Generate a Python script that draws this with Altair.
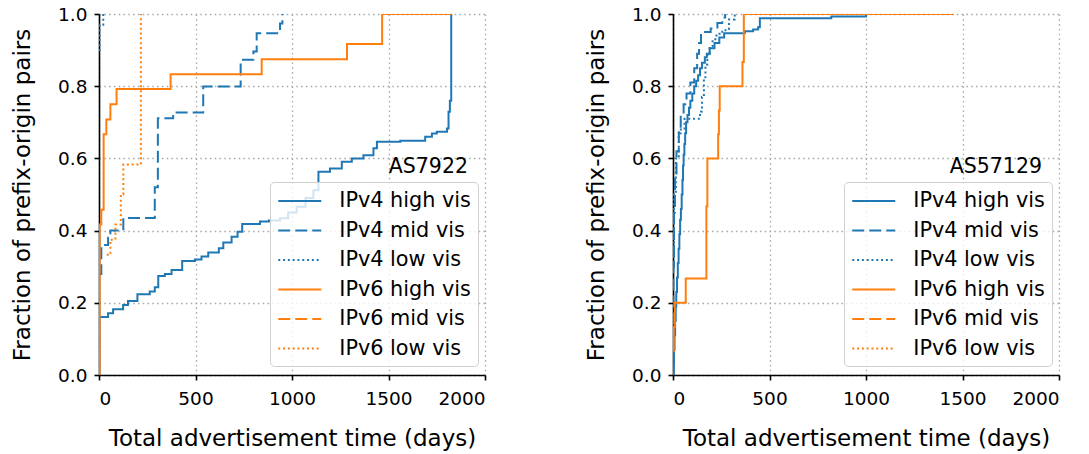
import altair as alt
import pandas as pd

SERIES = ["IPv4 high vis", "IPv4 mid vis", "IPv4 low vis",
          "IPv6 high vis", "IPv6 mid vis", "IPv6 low vis"]
COLORS = ["#1f77b4", "#1f77b4", "#1f77b4", "#ff7f0e", "#ff7f0e", "#ff7f0e"]
DASHES = [[1, 0], [12, 5], [2, 2.8], [1, 0], [12, 5], [2, 2.8]]

X_TICKS = [0, 500, 1000, 1500, 2000]
Y_TICKS = [0.0, 0.2, 0.4, 0.6, 0.8, 1.0]

# ---------------- AS7922 ----------------
AS7922_V4_HIGH_X = [0, 1, 47, 73, 125, 150, 199, 263, 289, 307, 341, 376, 431, 497, 531, 566,
                    621, 644, 687, 718, 742, 834, 880, 938, 980, 1024, 1070, 1111, 1137, 1197,
                    1258, 1310, 1370, 1422, 1440, 1561, 1690, 1725, 1750, 1803, 1811, 1818, 1825]
AS7922_V4_HIGH_Y = [0.0, 0.161, 0.171, 0.182, 0.194, 0.205, 0.224, 0.231, 0.243, 0.274, 0.28,
                    0.291, 0.316, 0.32, 0.328, 0.339, 0.351, 0.367, 0.383, 0.397, 0.418, 0.425,
                    0.428, 0.434, 0.45, 0.466, 0.49, 0.512, 0.563, 0.572, 0.591, 0.60, 0.609,
                    0.628, 0.646, 0.649, 0.66, 0.669, 0.674, 0.683, 0.729, 0.76, 1.0]
AS7922_V4_MID_X = [0, 12, 47, 59, 126, 289, 305, 384, 540, 734, 800, 817, 938, 950]
AS7922_V4_MID_Y = [0.28, 0.36, 0.38, 0.40, 0.435, 0.52, 0.711, 0.727, 0.799, 0.873, 0.896,
                   0.947, 0.974, 1.0]
AS7922_V4_LOW_X = [0, 3, 22]
AS7922_V4_LOW_Y = [0.9, 0.97, 1.0]
AS7922_V6_HIGH_X = [0, 3, 12, 24, 38, 59, 91, 371, 843, 1285, 1467, 1825]
AS7922_V6_HIGH_Y = [0.0, 0.417, 0.458, 0.667, 0.708, 0.75, 0.792, 0.833, 0.875, 0.917, 1.0, 1.0]
AS7922_V6_LOW_X = [40, 59, 85, 113, 126, 217]
AS7922_V6_LOW_Y = [0.333, 0.375, 0.417, 0.5, 0.583, 1.0]

# ---------------- AS57129 ----------------
AS57129_V4_HIGH_X = [0, 3, 5, 8, 11, 14, 17, 21, 25, 29, 33, 37, 41, 45, 49, 52, 55, 59, 63, 68,
                     75, 83, 90, 100, 110, 120, 130, 140, 150, 165, 175, 190, 215, 240, 265, 372,
                     415, 441, 450, 820, 1000, 1453]
AS57129_V4_HIGH_Y = [0.0, 0.03, 0.07, 0.11, 0.15, 0.19, 0.23, 0.27, 0.31, 0.35, 0.39, 0.43, 0.46,
                     0.50, 0.54, 0.58, 0.61, 0.64, 0.67, 0.70, 0.72, 0.74, 0.76, 0.78, 0.80,
                     0.815, 0.83, 0.85, 0.865, 0.88, 0.89, 0.905, 0.92, 0.935, 0.947, 0.952,
                     0.957, 0.963, 0.988, 0.993, 1.0, 1.0]
AS57129_V4_MID_X = [0, 2, 5, 10, 18, 30, 40, 55, 70, 90, 110, 125, 135, 145, 195, 230, 255, 270]
AS57129_V4_MID_Y = [0.0, 0.3, 0.45, 0.55, 0.62, 0.67, 0.72, 0.75, 0.78, 0.81, 0.85, 0.89, 0.92,
                    0.95, 0.96, 0.975, 0.99, 1.0]
AS57129_V4_LOW_X = [0, 5, 15, 30, 60, 140, 150, 160, 168, 178, 190, 205, 225, 255, 290, 320]
AS57129_V4_LOW_Y = [0.3, 0.5, 0.6, 0.68, 0.71, 0.73, 0.77, 0.82, 0.86, 0.89, 0.91, 0.93, 0.945,
                    0.955, 0.985, 1.0]
AS57129_V6_HIGH_X = [0, 4, 9, 66, 173, 178, 234, 238, 242, 360, 367, 1453]
AS57129_V6_HIGH_Y = [0.067, 0.133, 0.2, 0.267, 0.467, 0.6, 0.667, 0.733, 0.8, 0.867, 1.0, 1.0]


def frame(parts):
    rows = []
    for name, xs, ys in parts:
        for i, (x, y) in enumerate(zip(xs, ys)):
            rows.append({"series": name, "days": x, "frac": y, "idx": i})
    return pd.DataFrame(rows)


left_df = frame([
    ("IPv4 high vis", AS7922_V4_HIGH_X, AS7922_V4_HIGH_Y),
    ("IPv4 mid vis", AS7922_V4_MID_X, AS7922_V4_MID_Y),
    ("IPv4 low vis", AS7922_V4_LOW_X, AS7922_V4_LOW_Y),
    ("IPv6 high vis", AS7922_V6_HIGH_X, AS7922_V6_HIGH_Y),
    ("IPv6 low vis", AS7922_V6_LOW_X, AS7922_V6_LOW_Y),
])
right_df = frame([
    ("IPv4 high vis", AS57129_V4_HIGH_X, AS57129_V4_HIGH_Y),
    ("IPv4 mid vis", AS57129_V4_MID_X, AS57129_V4_MID_Y),
    ("IPv4 low vis", AS57129_V4_LOW_X, AS57129_V4_LOW_Y),
    ("IPv6 high vis", AS57129_V6_HIGH_X, AS57129_V6_HIGH_Y),
])

FONT = "DejaVu Sans"
W, H = 386, 361


def panel(df, label):
    legend = alt.Legend(
        title=None, orient="none", legendX=171, legendY=168,
        symbolType="M-2,0H2", symbolSize=462, symbolStrokeWidth=2, symbolOffset=10.75,
        labelFontSize=20.8, labelFont=FONT, labelColor="black",
        strokeColor="#d0d0d0", fillColor="rgba(255,255,255,0.8)", cornerRadius=4,
        padding=7, rowPadding=7.5, labelOffset=27.5, labelLimit=300,
    )
    lines = alt.Chart(df).mark_line(interpolate="step-after", strokeWidth=2, clip=True).encode(
        x=alt.X("days:Q", scale=alt.Scale(domain=[0, 2000], nice=False),
                axis=alt.Axis(values=X_TICKS, format="d", title="Total advertisement time (days)")),
        y=alt.Y("frac:Q", scale=alt.Scale(domain=[0, 1], nice=False),
                axis=alt.Axis(values=Y_TICKS, format=".1f", title="Fraction of prefix-origin pairs")),
        color=alt.Color("series:N", scale=alt.Scale(domain=SERIES, range=COLORS), legend=legend),
        strokeDash=alt.StrokeDash("series:N", scale=alt.Scale(domain=SERIES, range=DASHES), legend=legend),
        detail="series:N",
        order="idx:Q",
    )
    text = alt.Chart(pd.DataFrame({"label": [label]})).mark_text(
        align="right", baseline="alphabetic", fontSize=20.5, font=FONT, color="black"
    ).encode(x=alt.value(369), y=alt.value(159), text="label:N")
    return alt.layer(lines, text).properties(width=W, height=H)


chart = alt.hconcat(panel(left_df, "AS7922"), panel(right_df, "AS57129"), spacing=99).resolve_scale(
    color="independent", strokeDash="independent"
).resolve_legend(color="independent", strokeDash="independent").configure(
    padding={"left": 11, "top": 5, "right": 5, "bottom": 5}
).configure_view(stroke=None).configure_axis(
    labelFont=FONT, titleFont=FONT, labelFontSize=18.5, titleFontSize=23,
    labelColor="black", titleColor="black", titleFontWeight="normal",
    domainColor="black", domainWidth=1.6, tickColor="black", tickWidth=1.6, tickSize=5,
    gridColor="#aaaaaa", gridDash=[1.6, 3.2], gridWidth=1.3,
).configure_axisX(labelPadding=9, titlePadding=20).configure_axisY(labelPadding=7, titlePadding=23)

chart.save("out.html", embed_options={"renderer": "svg", "actions": False})
